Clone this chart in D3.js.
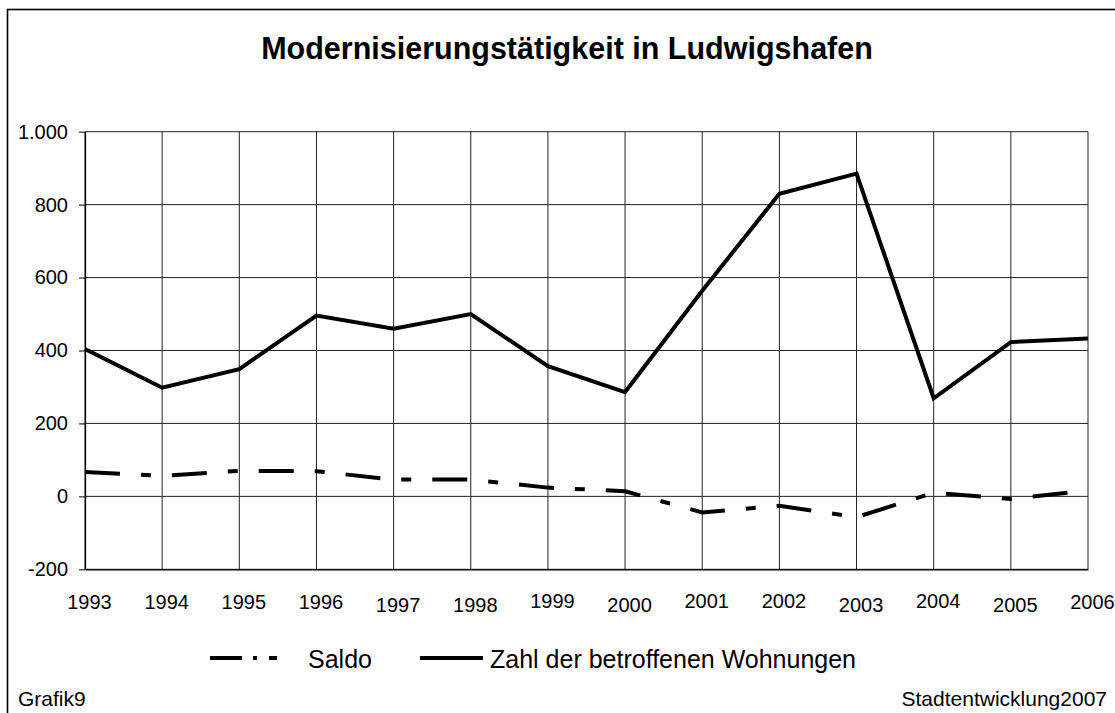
<!DOCTYPE html>
<html>
<head>
<meta charset="utf-8">
<script src="https://cdn.jsdelivr.net/npm/d3@7"></script>
<style>
  body { margin: 0; background: #fff; }
  svg { display: block; font-family: "Liberation Sans", Arial, sans-serif; }
</style>
</head>
<body>
<div id="chart"></div>
<script>
(function () {
  'use strict';

  // data
  var years = [1993, 1994, 1995, 1996, 1997, 1998, 1999, 2000, 2001, 2002, 2003, 2004, 2005, 2006];
  var wohnungen = [404, 298, 349, 496, 460, 500, 357, 286, 564, 830, 885, 269, 423, 433];
  var saldo = [67, 56, 70, 69, 46, 46, 24, 14, -44, -26, -57, 10, -7, 16];
  var yTicks = [-200, 0, 200, 400, 600, 800, 1000];

  // excel nudges some year labels down a few pixels
  var labelShift = [0, 0, 0, 0, 3, 3, -1, 3, -1, -1, 3, -1, 3, 0];

  var width = 1115, height = 713;
  var plot = { left: 85, right: 1088, top: 131.7, bottom: 569.3 };

  var svg = d3.select("#chart")
    .append("svg")
    .attr("width", width)
    .attr("height", height);

  svg.append("rect")
    .attr("width", width)
    .attr("height", height)
    .attr("fill", "#fff");

  // outer frame, right and bottom fall off the picture
  svg.append("rect")
    .attr("x", 7.5)
    .attr("y", 9.5)
    .attr("width", width + 20)
    .attr("height", height + 20)
    .attr("fill", "none")
    .attr("stroke", "#000")
    .attr("stroke-width", 1.6);

  var x = d3.scalePoint()
    .domain(years)
    .range([plot.left, plot.right]);

  var y = d3.scaleLinear()
    .domain([-200, 1000])
    .range([plot.bottom, plot.top]);

  var de = d3.formatLocale({ decimal: ",", thousands: ".", grouping: [3], currency: ["", " €"], minus: "-" });
  var fmt = de.format(",d");

  // horizontal grid
  svg.append("g")
    .selectAll("line")
    .data(yTicks)
    .enter()
      .append("line")
      .attr("x1", plot.left)
      .attr("x2", plot.right)
      .attr("y1", function(d){ return y(d); })
      .attr("y2", function(d){ return y(d); })
      .attr("stroke", "#222")
      .attr("stroke-width", 1);

  // vertical grid
  svg.append("g")
    .selectAll("line")
    .data(years)
    .enter()
      .append("line")
      .attr("x1", function(d){ return x(d); })
      .attr("x2", function(d){ return x(d); })
      .attr("y1", plot.top)
      .attr("y2", plot.bottom)
      .attr("stroke", "#222")
      .attr("stroke-width", 1);

  // y axis
  var yAxis = svg.append("g")
    .attr("transform", "translate(" + plot.left + ",0)")
    .call(d3.axisLeft(y).tickValues(yTicks).tickSize(6).tickSizeOuter(0).tickPadding(11).tickFormat(fmt));
  yAxis.select(".domain").attr("stroke", "#000").attr("stroke-width", 1.3);
  yAxis.selectAll(".tick line").attr("stroke", "#000");
  yAxis.selectAll("text")
    .attr("font-size", 20)
    .attr("font-family", "Liberation Sans, Arial, sans-serif")
    .attr("fill", "#000");

  // x axis, labels only
  var xAxis = svg.append("g")
    .attr("transform", "translate(0," + plot.bottom + ")")
    .call(d3.axisBottom(x).tickSize(0).tickSizeOuter(0).tickPadding(0).tickFormat(d3.format("d")));
  xAxis.select(".domain").attr("stroke", "#000").attr("stroke-width", 1.3);
  xAxis.selectAll("text")
    .attr("font-size", 20)
    .attr("font-family", "Liberation Sans, Arial, sans-serif")
    .attr("fill", "#000")
    .attr("dy", null)
    .attr("y", function(d, i){ return 39.7 + labelShift[i]; })
    .attr("x", 4);

  var line = d3.line()
    .x(function(d){ return x(d.year); })
    .y(function(d){ return y(d.value); });

  var saldoData = years.map(function(yr, i){ return { year: yr, value: saldo[i] }; });
  var wohnData = years.map(function(yr, i){ return { year: yr, value: wohnungen[i] }; });

  svg.append("path")
    .datum(saldoData)
    .attr("d", line)
    .attr("fill", "none")
    .attr("stroke", "#000")
    .attr("stroke-width", 4)
    .attr("stroke-dasharray", "35 21 10 21");

  svg.append("path")
    .datum(wohnData)
    .attr("d", line)
    .attr("fill", "none")
    .attr("stroke", "#000")
    .attr("stroke-width", 4)
    .attr("stroke-linejoin", "miter");

  // title
  svg.append("text")
    .attr("x", 567)
    .attr("y", 58.5)
    .attr("text-anchor", "middle")
    .attr("font-size", 30.5)
    .attr("font-weight", "bold")
    .text("Modernisierungstätigkeit in Ludwigshafen");

  // legend
  var legendY = 658;
  svg.append("line")
    .attr("x1", 210).attr("x2", 277)
    .attr("y1", legendY).attr("y2", legendY)
    .attr("stroke", "#000")
    .attr("stroke-width", 4)
    .attr("stroke-dasharray", "32 11 4 12 8 30");
  svg.append("text")
    .attr("x", 308)
    .attr("y", 668)
    .attr("font-size", 25)
    .text("Saldo");
  svg.append("line")
    .attr("x1", 420).attr("x2", 483)
    .attr("y1", legendY).attr("y2", legendY)
    .attr("stroke", "#000")
    .attr("stroke-width", 4);
  svg.append("text")
    .attr("x", 490)
    .attr("y", 668)
    .attr("font-size", 25)
    .text("Zahl der betroffenen Wohnungen");

  // footer
  svg.append("text")
    .attr("x", 18)
    .attr("y", 706)
    .attr("font-size", 21)
    .text("Grafik9");
  svg.append("text")
    .attr("x", 1107)
    .attr("y", 706)
    .attr("text-anchor", "end")
    .attr("font-size", 21)
    .text("Stadtentwicklung2007");

}());
</script>
</body>
</html>
